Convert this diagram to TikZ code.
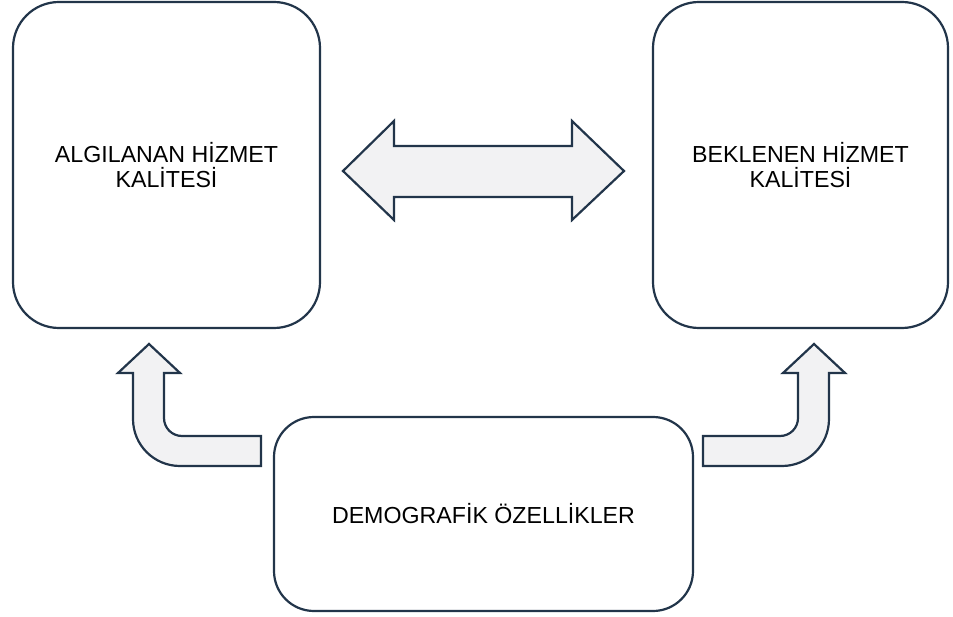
\documentclass[tikz,border=0pt]{standalone}
\usepackage{fontspec}
\setmainfont{Liberation Sans}
\definecolor{edge}{HTML}{22354A}
\definecolor{arrowfill}{HTML}{F2F2F3}
\begin{document}
\begin{tikzpicture}[x=1pt,y=-1pt,
  box/.style={draw=edge,line width=2.2pt,fill=white,rounded corners=#1,inner sep=0pt,
    font=\fontsize{23.2}{25}\selectfont,align=center},
  blockarrow/.style={draw=edge,line width=2.2pt,fill=arrowfill,line join=miter}]
\useasboundingbox (0,0) rectangle (953,617);
\node[box=46pt,minimum width=307pt,minimum height=326pt] (perc) at (166.5,165) {ALGILANAN HİZMET\\KALİTESİ};
\node[box=46pt,minimum width=295pt,minimum height=326pt] (exp) at (800.5,165) {BEKLENEN HİZMET\\KALİTESİ};
\node[box=40pt,minimum width=419pt,minimum height=194pt] (demo) at (483.5,514) {DEMOGRAFİK ÖZELLİKLER};
% double arrow between the two upper boxes
\draw[blockarrow] (343,171) -- (394,121) -- (394,146) -- (572,146) -- (572,121) -- (624,171)
  -- (572,220) -- (572,197) -- (394,197) -- (394,220) -- cycle;
% left bent arrow
\draw[blockarrow] (261,436) -- (182,436) .. controls (172,436) and (164,428) .. (164,418)
  -- (164,373) -- (180,373) -- (149,344) -- (118,373) -- (133,373) -- (133,419)
  .. controls (133,445) and (154,466) .. (180,466) -- (261,466) -- cycle;
% right bent arrow
\draw[blockarrow] (703,436) -- (780,436) .. controls (790,436) and (798,428) .. (798,418)
  -- (798,373) -- (783,373) -- (814,344) -- (845,373) -- (829,373) -- (829,419)
  .. controls (829,445) and (808,466) .. (782,466) -- (703,466) -- cycle;
\end{tikzpicture}
\end{document}
